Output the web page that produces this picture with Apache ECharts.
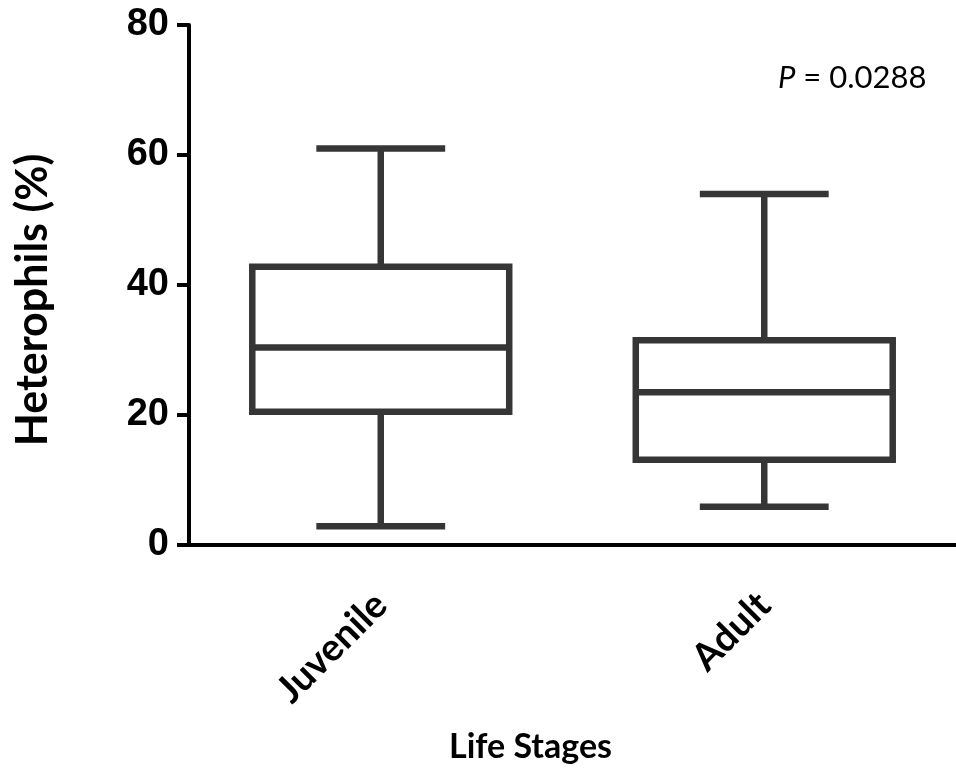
<!DOCTYPE html>
<html>
<head>
<meta charset="utf-8">
<script src="https://cdn.jsdelivr.net/npm/echarts@6/dist/echarts.min.js"></script>
<style>
  html, body { margin: 0; padding: 0; background: #fff; }
  #chart { width: 956px; height: 771px; }
</style>
</head>
<body>
<div id="chart"></div>
<script>
// data
const categories = ['Juvenile', 'Adult'];
const whiskerLow = [2.9, 5.9];
const quartile1 = [20.5, 13.1];
const medians = [30.4, 23.5];
const quartile3 = [42.8, 31.5];
const whiskerHigh = [61, 54];
const yTicks = [0, 20, 40, 60, 80];

const boxData = categories.map((c, i) =>
    [i, whiskerLow[i], quartile1[i], medians[i], quartile3[i], whiskerHigh[i]]);

const myChart = echarts.init(document.getElementById('chart'));

const boxColor = '#363636';

function renderBox(params, api) {
    const idx = api.value(0);
    const band = api.size([1, 0])[0];
    const halfBox = band * 0.335;
    const halfCap = band * 0.168;
    const pMin = api.coord([idx, api.value(1)]);
    const pQ1 = api.coord([idx, api.value(2)]);
    const pMed = api.coord([idx, api.value(3)]);
    const pQ3 = api.coord([idx, api.value(4)]);
    const pMax = api.coord([idx, api.value(5)]);
    const x = pMed[0];
    const style = { stroke: boxColor, lineWidth: 6.5, fill: null };
    return {
        type: 'group',
        children: [
            { type: 'rect', shape: { x: x - halfBox, y: pQ3[1], width: halfBox * 2, height: pQ1[1] - pQ3[1] }, style: style },
            { type: 'line', shape: { x1: x - halfBox, y1: pMed[1], x2: x + halfBox, y2: pMed[1] }, style: style },
            { type: 'line', shape: { x1: x, y1: pQ3[1], x2: x, y2: pMax[1] }, style: style },
            { type: 'line', shape: { x1: x, y1: pQ1[1], x2: x, y2: pMin[1] }, style: style },
            { type: 'line', shape: { x1: x - halfCap, y1: pMax[1], x2: x + halfCap, y2: pMax[1] }, style: style },
            { type: 'line', shape: { x1: x - halfCap, y1: pMin[1], x2: x + halfCap, y2: pMin[1] }, style: style }
        ]
    };
}

const option = {
    backgroundColor: '#fff',
    animation: false,
    grid: { left: 189, right: -12, top: 25, bottom: 226, containLabel: false },
    xAxis: {
        type: 'category',
        data: categories,
        name: 'Life Stages',
        nameLocation: 'middle',
        nameGap: 185,
        nameTextStyle: { fontFamily: 'Lato', fontWeight: 'bold', fontSize: 34, color: '#000', padding: [0, 0, 0, -84] },
        axisLine: { lineStyle: { color: '#000', width: 4 } },
        axisTick: { alignWithLabel: true, length: 12, lineStyle: { color: '#000', width: 4 } },
        axisLabel: { rotate: 45, margin: 54, fontFamily: 'Lato', fontWeight: 'bold', fontSize: 38, color: '#000' },
        splitLine: { show: false }
    },
    yAxis: {
        type: 'value',
        min: 0,
        max: 80,
        interval: 20,
        name: 'Heterophils (%)',
        nameLocation: 'middle',
        nameGap: 134,
        nameRotate: 90,
        nameTextStyle: { fontFamily: 'Lato', fontWeight: 'bold', fontSize: 43, color: '#000', padding: [0, 30, 0, 0] },
        axisLine: { show: true, lineStyle: { color: '#000', width: 4 } },
        axisTick: { show: true, length: 12, lineStyle: { color: '#000', width: 4 } },
        axisLabel: {
            margin: 20,
            fontFamily: 'Liberation Sans', fontWeight: 'bold', fontSize: 38, color: '#000',
            formatter: v => yTicks.indexOf(v) >= 0 ? String(v) : ''
        },
        splitLine: { show: false }
    },
    graphic: [{
        type: 'text',
        left: 778,
        top: 62,
        style: {
            text: '{i|P} = 0.0288',
            fontFamily: 'Lato',
            fontSize: 31,
            fill: '#000',
            rich: { i: { fontStyle: 'italic', fontFamily: 'Lato', fontSize: 31 } }
        }
    }],
    series: [{
        type: 'custom',
        renderItem: renderBox,
        encode: { x: 0, y: [1, 2, 3, 4, 5] },
        data: boxData,
        clip: false
    }]
};

myChart.setOption(option);
</script>
</body>
</html>
